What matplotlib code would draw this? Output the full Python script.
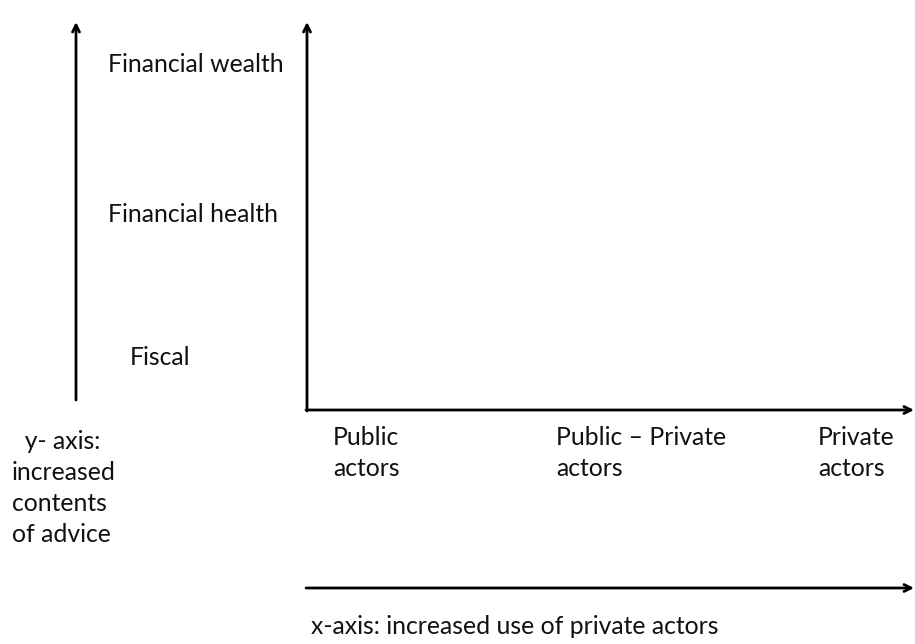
import matplotlib
matplotlib.use("Agg")
import matplotlib.pyplot as plt

# Content of the diagram
advice_levels = ["Fiscal", "Financial health", "Financial wealth"]
actor_groups = [["Public", "actors"], ["Public – Private", "actors"], ["Private", "actors"]]
y_axis_label = ["  y- axis:", "increased", "contents", "of advice"]
x_axis_label = "x-axis: increased use of private actors"

plt.rcParams['font.family'] = ['Lato', 'DejaVu Sans']

fig = plt.figure(figsize=(9.15, 6.44), dpi=100)
ax = fig.add_axes([0, 0, 1, 1])
ax.set_xlim(0, 915)
ax.set_ylim(644, 0)
ax.axis('off')

arrow_kw = dict(arrowstyle='->,head_length=0.5,head_width=0.25', lw=2, color='black',
                shrinkA=0, shrinkB=0)

def arrow(x0, y0, x1, y1):
    ax.annotate('', xy=(x1, y1), xytext=(x0, y0), arrowprops=arrow_kw)

# left content arrow
arrow(76, 400, 76, 22)
# main axes
arrow(307, 411, 307, 22)
arrow(306, 410, 914, 410)
# bottom arrow
arrow(306, 588, 914, 588)

fs = 17.8
tc = '#111111'
level_pos = [(130, 357), (108, 214), (108, 64)]
for lab, (x, y) in zip(advice_levels, level_pos):
    ax.text(x, y, lab, fontsize=fs, ha='left', va='center', color=tc)

actor_pos = [333, 556, 818]
for lines, x in zip(actor_groups, actor_pos):
    for i, ln in enumerate(lines):
        ax.text(x, 437 + 31 * i, ln, fontsize=fs, ha='left', va='center', color=tc)

for i, ln in enumerate(y_axis_label):
    ax.text(12, 441 + 31 * i, ln, fontsize=fs, ha='left', va='center', color=tc)

ax.text(311, 627, x_axis_label, fontsize=fs, ha='left', va='center', color=tc)

fig.savefig('out.png', dpi=100)
